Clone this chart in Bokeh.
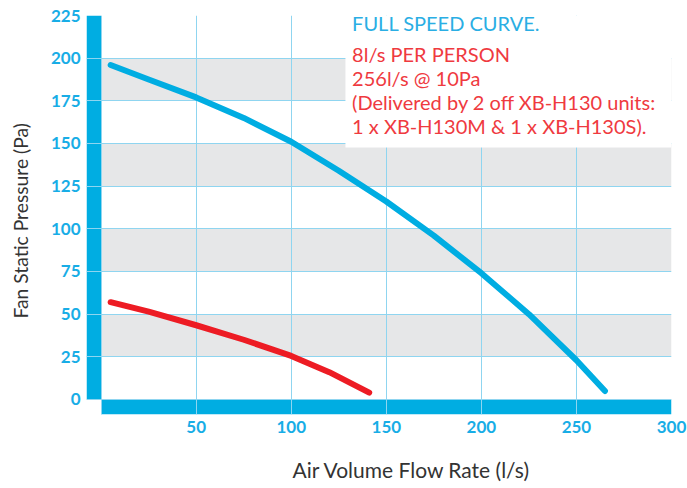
from bokeh.plotting import figure
from bokeh.models import Range1d, FixedTicker, BoxAnnotation, Label, Title
from bokeh.embed import file_html
from bokeh.resources import INLINE

# ---- data ----
fan_flow = [5, 25, 50, 75, 100, 125, 150, 175, 200, 225, 250, 265]
fan_pressure = [196, 187.5, 177, 165, 151, 134, 116, 96, 74, 50, 23, 5]

duty_flow = [5, 25, 50, 75, 100, 120, 141]
duty_pressure = [57, 51.5, 43.5, 35, 25.5, 16, 4]

x_ticks = [50, 100, 150, 200, 250, 300]
y_ticks = [0, 25, 50, 75, 100, 125, 150, 175, 200, 225]
band_low = [25, 75, 125, 175]
band_high = [50, 100, 150, 200]

note_blue = "FULL SPEED CURVE."
note_red = [
    "8l/s PER PERSON",
    "256l/s @ 10Pa",
    "(Delivered by 2 off XB-H130 units:",
    "1 x XB-H130M & 1 x XB-H130S).",
]
x_label = "Air Volume Flow Rate (l/s)"
y_label = "Fan Static Pressure (Pa)"

# ---- styling ----
X_MAX = 300
Y_MAX = 225
BAR_X = -7.7     # thickness of the left axis bar, in x units
BAR_Y = -8.8     # thickness of the bottom axis bar, in y units
BLUE = "#00ade2"
TICK_BLUE = "#18ade6"
GRID = "#8fd5f0"
BAND = "#e6e7e8"
RED = "#ed1c24"
RED_TEXT = "#ef3a3f"
TEXT_BLUE = "#2aaee4"
FONT = "Lato"

p = figure(width=687, height=488,
           x_range=Range1d(BAR_X, X_MAX), y_range=Range1d(BAR_Y, Y_MAX),
           output_backend="svg", toolbar_location=None,
           min_border_left=86, min_border_right=16,
           min_border_top=15, min_border_bottom=74)
p.outline_line_color = None

# grey bands
p.quad(left=0, right=X_MAX, bottom=band_low, top=band_high,
       fill_color=BAND, line_color=None, level="image")
# thick axis bars
p.quad(left=[BAR_X], right=[0], bottom=[0], top=[Y_MAX],
       fill_color=BLUE, line_color=None, level="image")
p.quad(left=[0], right=[X_MAX], bottom=[BAR_Y], top=[0],
       fill_color=BLUE, line_color=None, level="image")

# grid
p.xgrid.ticker = FixedTicker(ticks=[0] + x_ticks)
p.ygrid.ticker = FixedTicker(ticks=y_ticks)
p.grid.grid_line_color = GRID
p.grid.grid_line_width = 1

# curves
p.line(fan_flow, fan_pressure, line_color=BLUE, line_width=6, line_cap="round", line_join="round")
p.line(duty_flow, duty_pressure, line_color=RED, line_width=6, line_cap="round", line_join="round")

# axes
p.xaxis.ticker = FixedTicker(ticks=x_ticks)
p.yaxis.ticker = FixedTicker(ticks=y_ticks)
for ax in (p.xaxis[0], p.yaxis[0]):
    ax.axis_line_color = None
    ax.major_tick_line_color = None
    ax.minor_tick_line_color = None
    ax.major_tick_out = 0
    ax.major_tick_in = 0
    ax.minor_tick_out = 0
    ax.minor_tick_in = 0
    ax.major_label_text_font = FONT
    ax.major_label_text_font_style = "bold"
    ax.major_label_text_font_size = "17px"
    ax.major_label_text_color = TICK_BLUE
    # tiny spacer label, gives room between tick labels and the axis title
    ax.axis_label = " "
    ax.axis_label_text_font_size = "1px"
p.yaxis.major_label_standoff = 6
p.xaxis.major_label_standoff = 6
p.yaxis.axis_label_standoff = 7
p.xaxis.axis_label_standoff = 10

# axis titles (positioned as in the reference)
p.add_layout(Title(text=y_label, align="left", offset=96, text_font=FONT,
                   text_font_size="19.3px", text_font_style="normal",
                   text_color="#333333"), "left")
p.add_layout(Title(text=x_label, align="left", offset=206, text_font=FONT,
                   text_font_size="21px", text_font_style="normal",
                   text_color="#333333"), "below")

# note box
p.add_layout(BoxAnnotation(left=128.5, right=X_MAX, bottom=147.7, top=Y_MAX,
                           fill_color="white", fill_alpha=1.0, line_color=None))
p.add_layout(Label(x=132.0, y=220.6, text=note_blue, text_font=FONT, text_font_size="20px",
                   text_color=TEXT_BLUE, text_baseline="middle"))
for i, line in enumerate(note_red):
    p.add_layout(Label(x=132.0, y=202.2 - i * 14.06, text=line, text_font=FONT,
                       text_font_size="20px", text_color=RED_TEXT, text_baseline="middle"))

open("out.html", "w").write(file_html(p, INLINE))
